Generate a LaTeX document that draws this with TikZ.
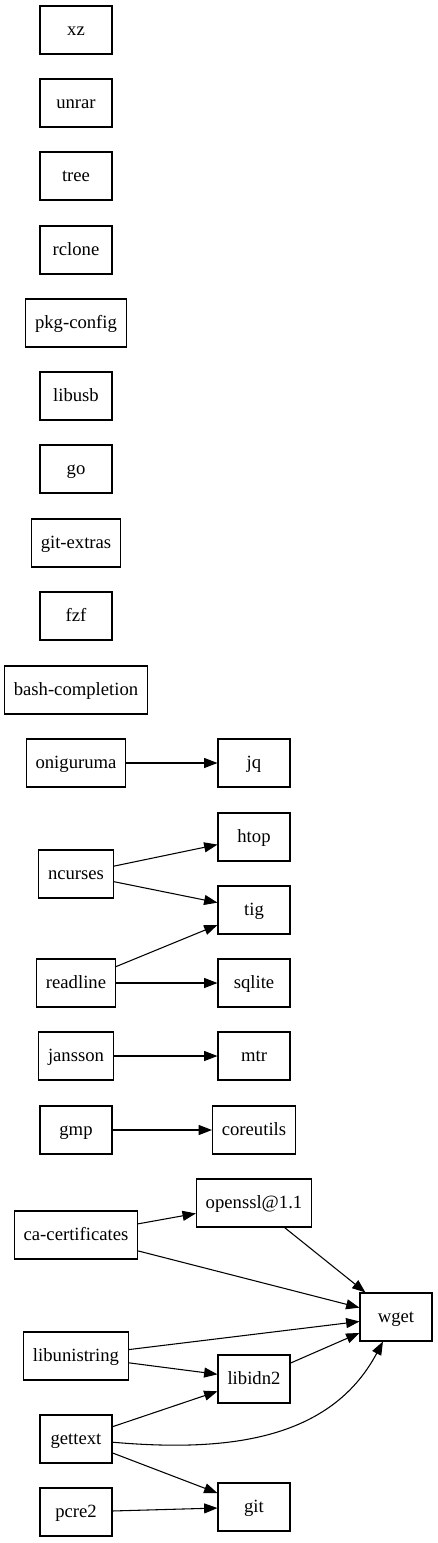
\documentclass[tikz,border=0pt]{standalone}
\usepackage{fontspec}
\setmainfont{Liberation Serif}
\usetikzlibrary{arrows.meta}

\begin{document}
\begin{tikzpicture}[x=0.75pt, y=-0.75pt, line width=0.8pt,
		every node/.style = {shape=rectangle, draw, align=center, minimum width=54pt,
	minimum height=36pt, inner xsep=7pt, text height=9.5pt, text depth=1.5pt,
	font=\fontsize{14pt}{16pt}\selectfont},
		dep/.style = {draw, -{Triangle[length=10pt, width=7.5pt]}}]
	\useasboundingbox (0,0) rectangle (437,1543);
			\node (xz) at (76,30) {xz};
			\node (unrar) at (76,103) {unrar};
			\node (tree) at (76,176) {tree};
			\node (rclone) at (76,250) {rclone};
			\node (pkgconfig) at (76,323) {pkg-config};
			\node (libusb) at (76,396) {libusb};
			\node (go) at (76,469) {go};
			\node (gitextras) at (76,543) {git-extras};
			\node (fzf) at (76,616) {fzf};
			\node (bashcompletion) at (76,690) {bash-completion};
			\node (oniguruma) at (76,763) {oniguruma};
			\node (jq) at (254,763) {jq};
			\node (htop) at (254,837) {htop};
			\node (ncurses) at (76,874) {ncurses};
			\node (tig) at (254,910) {tig};
			\node (readline) at (76,983) {readline};
			\node (sqlite) at (254,983) {sqlite};
			\node (jansson) at (76,1056) {jansson};
			\node (mtr) at (254,1056) {mtr};
			\node (gmp) at (76,1130) {gmp};
			\node (coreutils) at (254,1130) {coreutils};
			\node (openssl) at (254,1203) {openssl@1.1};
			\node (cacertificates) at (76,1235) {ca-certificates};
			\node (wget) at (396,1317) {wget};
			\node (libunistring) at (76,1356) {libunistring};
			\node (libidn) at (254,1379) {libidn2};
			\node (gettext) at (76,1439) {gettext};
			\node (pcre) at (76,1512) {pcre2};
			\node (git) at (254,1507) {git};
			\draw[dep] (oniguruma) -- (jq);
			\draw[dep] (ncurses) -- (htop);
			\draw[dep] (ncurses) -- (tig);
			\draw[dep] (readline) -- (tig);
			\draw[dep] (readline) -- (sqlite);
			\draw[dep] (jansson) -- (mtr);
			\draw[dep] (gmp) -- (coreutils);
			\draw[dep] (cacertificates) -- (openssl);
			\draw[dep] (cacertificates) -- (wget);
			\draw[dep] (openssl) -- (wget);
			\draw[dep] (libunistring) -- (wget);
			\draw[dep] (libunistring) -- (libidn);
			\draw[dep] (libidn) -- (wget);
			\draw[dep] (gettext) -- (libidn);
			\draw[dep] (gettext) to[out=-5, in=-118] (wget);
			\draw[dep] (gettext) -- (git);
			\draw[dep] (pcre) -- (git);
		\end{tikzpicture}
\end{document}
